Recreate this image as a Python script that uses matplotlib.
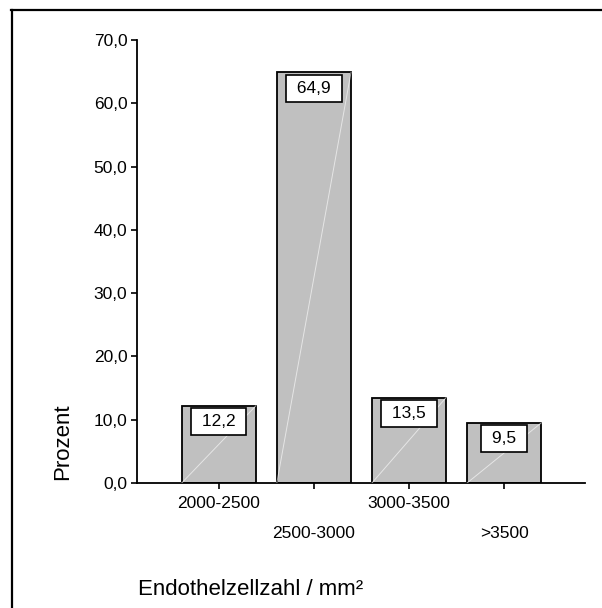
import matplotlib
matplotlib.use("Agg")
import matplotlib.pyplot as plt
from matplotlib.lines import Line2D

plt.rcParams['font.family'] = ['Liberation Sans', 'DejaVu Sans']

# Endothelial cell density classes and their share in percent
categories = ['2000-2500', '2500-3000', '3000-3500', '>3500']
percent = [12.2, 64.9, 13.5, 9.5]
yticks = [0, 10, 20, 30, 40, 50, 60, 70]

W, H = 602, 608
fig = plt.figure(figsize=(W / 100, H / 100), dpi=100)
ax = fig.add_axes([137 / W, (H - 483) / H, 448 / W, 443 / H])

x = list(range(len(categories)))
bw = 0.78
ax.bar(x, percent, width=bw, color='#c0c0c0', edgecolor='black', linewidth=1.3, zorder=2)

# faint diagonal highlight inside each bar
for xi, v in zip(x, percent):
    ax.plot([xi - bw / 2, xi + bw / 2], [0, v], color='white', lw=0.7, alpha=0.6, zorder=3)

# value boxes hanging from bar tops
for xi, v in zip(x, percent):
    ax.annotate(' ' + f'{v:.1f}'.replace('.', ',') + ' ', xy=(xi, v), xytext=(0, -6),
                textcoords='offset points', ha='center', va='top', fontsize=12.5,
                bbox=dict(boxstyle='square,pad=0.34', fc='white', ec='black', lw=1.2),
                zorder=4)

ax.set_xlim(-0.86, 3.85)
ax.set_ylim(0, 70)
ax.set_yticks(yticks)
ax.set_yticklabels([f'{t:.1f}'.replace('.', ',') for t in yticks], fontsize=12.5)
ax.set_xticks(x)
ax.set_xticklabels(categories, fontsize=12.5)

for s in ['top', 'right']:
    ax.spines[s].set_visible(False)
for s in ['left', 'bottom']:
    ax.spines[s].set_linewidth(1.3)
ax.tick_params(axis='both', direction='out', length=4, width=1.2, color='black')
ax.tick_params(axis='y', pad=3)
for i, t in enumerate(ax.xaxis.get_major_ticks()):
    t.set_pad(5.5 if i % 2 == 0 else 27)

fig.text(63 / W, 1 - 442 / H, 'Prozent', rotation=90, ha='center', va='center', fontsize=16)
fig.text(138 / W, 1 - 595 / H, 'Endothelzellzahl / mm²', ha='left', va='baseline', fontsize=16)

# outer frame, cut off at the right and bottom
fig.add_artist(Line2D([11 / W, 1], [1 - 10 / H, 1 - 10 / H], color='black', lw=1.6))
fig.add_artist(Line2D([12 / W, 12 / W], [1 - 10 / H, 0], color='black', lw=1.6))

fig.savefig('out.png', dpi=100)
